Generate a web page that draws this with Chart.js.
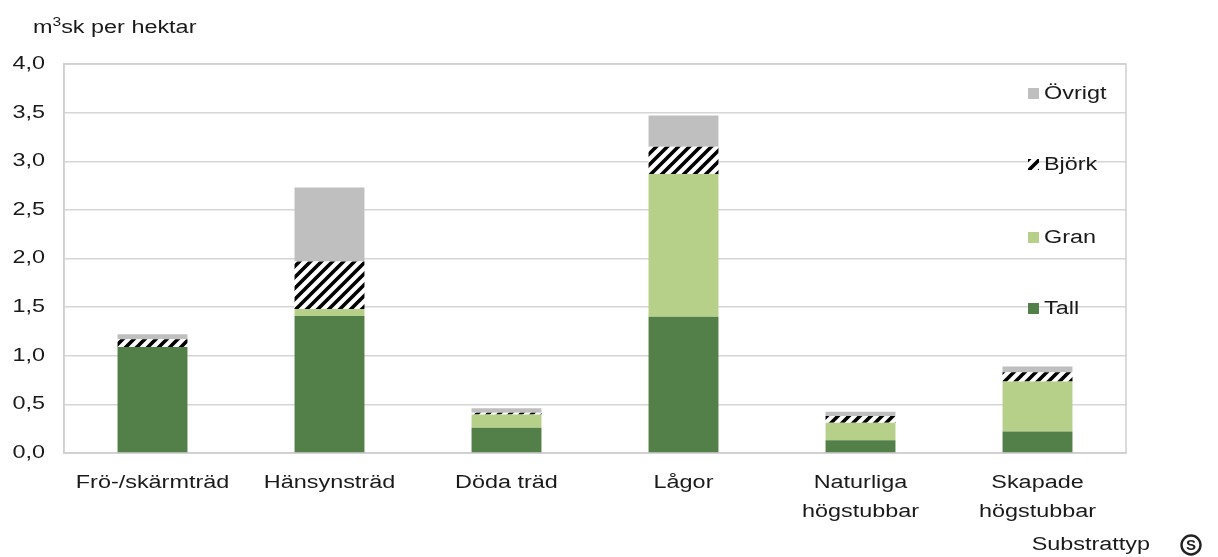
<!DOCTYPE html>
<html><head><meta charset="utf-8">
<script src="https://cdn.jsdelivr.net/npm/chart.js@4.4.0/dist/chart.umd.min.js"></script>
<style>html,body{margin:0;padding:0;background:#fff;}#wrap{width:1218px;height:557px;}</style>
</head><body><div id="wrap"><canvas id="c" width="1218" height="557"></canvas></div>
<script>
const categories = [["Frö-/skärmträd"], ["Hänsynsträd"], ["Döda träd"], ["Lågor"], ["Naturliga", "högstubbar"], ["Skapade", "högstubbar"]];
const tall   = [1.09, 1.41, 0.26, 1.40, 0.13, 0.22];
const gran   = [0.00, 0.07, 0.135, 1.47, 0.18, 0.515];
const bjork  = [0.08, 0.49, 0.02, 0.28, 0.07, 0.095];
const ovrigt = [0.05, 0.76, 0.045, 0.32, 0.045, 0.06];
const yTickValues = [0, 0.5, 1, 1.5, 2, 2.5, 3, 3.5, 4];
const seriesNames = ["Tall", "Gran", "Björk", "Övrigt"];
const yTitle = "sk per hektar";
const xTitle = "Substrattyp";

const FONT = "'Liberation Sans', Arial, sans-serif";
const SX = 1.3;           // horizontal text stretch seen in the reference
const TEXT = '#1a1a1a';

const canvas = document.getElementById('c');
const ctx0 = canvas.getContext('2d');
const protoFill = CanvasRenderingContext2D.prototype.fillText;
ctx0.fillText = function (t, x, y) {
  this.save();
  this.translate(x, 0);
  this.scale(SX, 1);
  protoFill.call(this, t, 0, y);
  this.restore();
};

function hatch() {
  const s = 11;
  const c = document.createElement('canvas');
  c.width = s; c.height = s;
  const g = c.getContext('2d');
  g.fillStyle = '#fff'; g.fillRect(0, 0, s, s);
  g.strokeStyle = '#000'; g.lineWidth = 3.6; g.lineCap = 'square';
  g.beginPath();
  g.moveTo(-2, s + 2); g.lineTo(s + 2, -2);
  g.moveTo(-3, 3); g.lineTo(3, -3);
  g.moveTo(s - 3, s + 3); g.lineTo(s + 3, s - 3);
  g.stroke();
  return ctx0.createPattern(c, 'repeat');
}
const hatchPattern = hatch();
const colors = ['#537f48', '#b6cf89', hatchPattern, '#bfbfbf'];

const framePlugin = {
  id: 'frame',
  beforeDatasetsDraw(chart) {
    const a = chart.chartArea, ctx = chart.ctx;
    ctx.save();
    ctx.strokeStyle = '#cfcfcf'; ctx.lineWidth = 1.5;
    ctx.strokeRect(a.left, a.top, a.right - a.left, a.bottom - a.top);
    ctx.restore();
  }
};

const textPlugin = {
  id: 'texts',
  afterDraw(chart) {
    const ctx = chart.ctx;
    ctx.save();
    ctx.fillStyle = TEXT;
    ctx.textBaseline = 'alphabetic';
    ctx.textAlign = 'left';
    // y title with superscript
    ctx.font = '18px ' + FONT;
    ctx.fillText('m', 33, 33);
    let x = 33 + ctx.measureText('m').width * SX;
    ctx.font = '12px ' + FONT;
    ctx.fillText('3', x, 26);
    x += ctx.measureText('3').width * SX;
    ctx.font = '18px ' + FONT;
    ctx.fillText(yTitle, x, 33);
    // legend
    const ys = [308, 237, 164, 93];
    ctx.textBaseline = 'middle';
    for (let i = 3; i >= 0; i--) {
      const y = ys[i];
      ctx.fillStyle = colors[i];
      ctx.fillRect(1028, y - 5, 11, 11);
      ctx.fillStyle = TEXT;
      ctx.fillText(seriesNames[i], 1044, y + 1);
    }
    // x title
    ctx.textAlign = 'right';
    ctx.fillText(xTitle, 1150, 545);
    // logo
    ctx.strokeStyle = '#222'; ctx.lineWidth = 2.4;
    ctx.beginPath(); ctx.arc(1191, 545, 9.5, 0, Math.PI * 2); ctx.stroke();
    ctx.textAlign = 'center';
    ctx.font = 'bold 15px ' + FONT;
    ctx.fillStyle = '#222';
    protoFill.call(ctx, 'S', 1191, 546);
    ctx.restore();
  }
};

new Chart(canvas, {
  type: 'bar',
  data: {
    labels: categories,
    datasets: [
      { label: seriesNames[0], data: tall, backgroundColor: colors[0] },
      { label: seriesNames[1], data: gran, backgroundColor: colors[1] },
      { label: seriesNames[2], data: bjork, backgroundColor: colors[2] },
      { label: seriesNames[3], data: ovrigt, backgroundColor: colors[3] }
    ]
  },
  options: {
    responsive: false,
    animation: false,
    devicePixelRatio: 1,
    layout: { padding: { left: 0, right: 92, top: 64, bottom: 0 } },
    datasets: { bar: { categoryPercentage: 1, barPercentage: 0.395, borderWidth: 0 } },
    plugins: { legend: { display: false }, tooltip: { enabled: false }, title: { display: false } },
    scales: {
      x: {
        stacked: true,
        grid: { display: false, drawTicks: false },
        border: { display: true, color: '#cfcfcf', width: 1.5 },
        ticks: { color: TEXT, font: { family: FONT, size: 18, lineHeight: 1.62 }, padding: 15, maxRotation: 0, autoSkip: false },
        afterFit(s) { s.height = 104; }
      },
      y: {
        stacked: true,
        min: 0, max: 4,
        afterBuildTicks(s) { s.ticks = yTickValues.map(v => ({ value: v })); },
        grid: { color: '#d6d6d6', lineWidth: 1.5, drawTicks: false },
        border: { display: true, color: '#cfcfcf', width: 1.5 },
        ticks: {
          color: TEXT, font: { family: FONT, size: 18 }, padding: 19,
          callback: v => v.toFixed(1).replace('.', ',')
        },
        afterFit(s) { s.width = 64; }
      }
    }
  },
  plugins: [framePlugin, textPlugin]
});
</script></body></html>
